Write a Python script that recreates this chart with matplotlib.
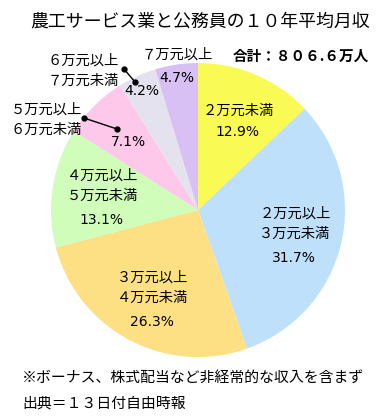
import matplotlib
matplotlib.use("Agg")
import matplotlib.pyplot as plt
from matplotlib.lines import Line2D

plt.rcParams['font.family'] = ['Noto Sans CJK JP', 'DejaVu Sans']

# Data (clockwise from 12 o'clock)
categories = ["２万元未満", "２万元以上\n３万元未満", "３万元以上\n４万元未満",
              "４万元以上\n５万元未満", "５万元以上\n６万元未満",
              "６万元以上\n７万元未満", "７万元以上"]
shares = [12.9, 31.7, 26.3, 13.1, 7.1, 4.2, 4.7]
colors = ["#FAFA55", "#BEE0FA", "#FDE084", "#D0FDBA", "#FDC8EA", "#E3E2EE", "#D8C0F5"]
title = "農工サービス業と公務員の１０年平均月収"
total_label = "合計：８０６.６万人"
footnotes = ["※ボーナス、株式配当など非経常的な収入を含まず", "出典＝１３日付自由時報"]

W, H = 387, 419
fig = plt.figure(figsize=(W / 100, H / 100), dpi=100)
fig.patch.set_facecolor("white")

cx, cy, r = 198, 210, 147
ax = fig.add_axes([(cx - r) / W, (H - cy - r) / H, 2 * r / W, 2 * r / H])
ax.pie(shares, colors=colors, startangle=90, counterclock=False, radius=1,
       wedgeprops=dict(linewidth=0))
ax.set_xlim(-1, 1)
ax.set_ylim(-1, 1)
ax.set_aspect('equal')
ax.axis('off')


def px(x, y):
    return x / W, 1 - y / H


def put(x, y, s, size=10.3, weight='normal', ha='center', family=None):
    kw = {}
    if family:
        kw['family'] = family
    fig.text(*px(x, y), s, fontsize=size, ha=ha, va='center', weight=weight,
             color='black', linespacing=1.55, **kw)


fig.text(*px(200, 22), title, fontsize=12.9, ha='center', va='center',
         color='black')
put(301, 56, total_label, size=10.5, weight='bold')

pct = [f"{v}%" for v in shares]
PF = ['DejaVu Sans']
PS = 10.0
# label positions (pixel centers)
put(238, 111, categories[0])
put(237, 132, pct[0], size=PS, family=PF)
put(295, 224, categories[1])
put(294, 258, pct[1], size=PS, family=PF)
put(153, 288, categories[2])
put(152, 322, pct[2], size=PS, family=PF)
put(102, 186, categories[3])
put(101, 220, pct[3], size=PS, family=PF)
put(46, 120, categories[4])
put(128, 142, pct[4], size=PS, family=PF)
put(83, 71, categories[5])
put(142, 91, pct[5], size=PS, family=PF)
put(177, 55, categories[6])
put(177, 78, pct[6], size=PS, family=PF)

# leader lines
for (x1, y1, x2, y2) in [(124, 69, 135, 82), (84, 118, 117, 129)]:
    a, b = px(x1, y1)
    c, d = px(x2, y2)
    fig.add_artist(Line2D([a, c], [b, d], color='black', lw=1.0,
                          marker='o', markersize=3.5, transform=fig.transFigure))

put(22, 378, footnotes[0], size=10.7, ha='left')
put(22, 403, footnotes[1], size=10.7, ha='left')

fig.savefig("out.png", dpi=100)
